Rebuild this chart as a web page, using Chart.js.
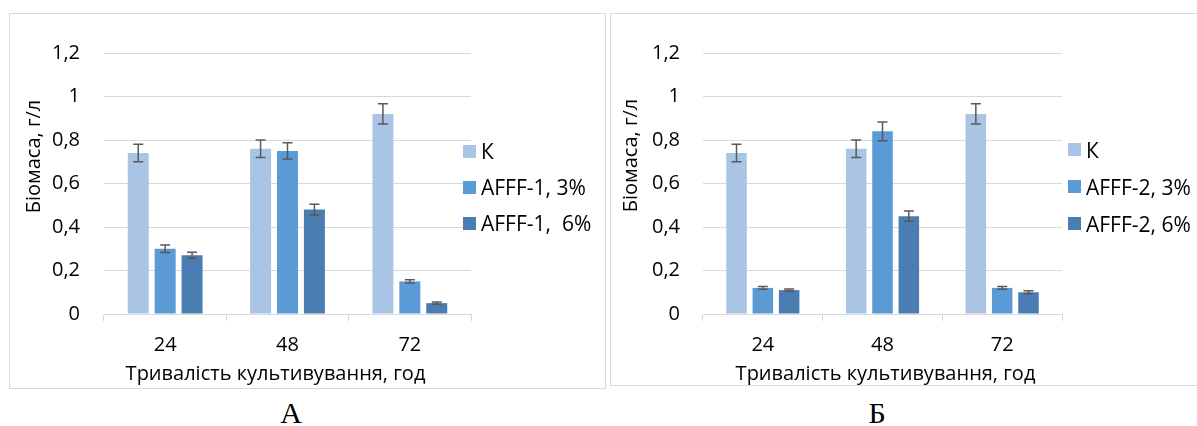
<!DOCTYPE html>
<html>
<head>
<meta charset="utf-8">
<script src="https://cdn.jsdelivr.net/npm/chart.js@4/dist/chart.umd.min.js"></script>
<style>
body{margin:0;width:1197px;height:426px;overflow:hidden;background:#fff;position:relative;font-family:"Open Sans",sans-serif;}
.panel{position:absolute;box-sizing:border-box;border:1px solid #d9d9d9;background:#fff;}
#panelA{left:9px;top:13px;width:597px;height:376px;}
#panelB{left:610px;top:13px;width:600px;height:373px;}
.panel canvas{position:absolute;left:0;top:0;}
.legend{position:absolute;font-size:21px;color:#000;}
.legend .item{display:flex;align-items:center;white-space:pre;}
.legend .box{width:13px;height:13px;margin-right:5px;}
.caption{position:absolute;width:60px;text-align:center;font-family:"Liberation Serif",serif;font-size:30px;line-height:30px;}
</style>
</head>
<body>
<div class="panel" id="panelA"><canvas id="chartA" width="595" height="374"></canvas></div>
<div class="panel" id="panelB"><canvas id="chartB" width="586" height="371"></canvas></div>
<div class="legend" id="legendA" style="left:463px;top:133px;"></div>
<div class="legend" id="legendB" style="left:1068px;top:131px;"></div>
<div class="caption" style="left:261px;top:398px;">А</div>
<div class="caption" style="left:847px;top:398px;">Б</div>
<script>
// data
const categories = ['24', '48', '72'];
const yTickLabels = ['0', '0,2', '0,4', '0,6', '0,8', '1', '1,2'];
const xTitle = 'Тривалість культивування, год';
const yTitle = 'Біомаса, г/л';
const colors = ['#aac4e5', '#5b9bd5', '#4a7eb2'];

const seriesA = ['К', 'AFFF-1, 3%', 'AFFF-1,  6%'];
const controlA = [0.74, 0.76, 0.92];
const controlErrA = [0.04, 0.04, 0.047];
const afff1_3 = [0.30, 0.75, 0.15];
const afff1_3Err = [0.017, 0.037, 0.008];
const afff1_6 = [0.27, 0.48, 0.05];
const afff1_6Err = [0.014, 0.025, 0.005];

const seriesB = ['К', 'AFFF-2, 3%', 'AFFF-2, 6%'];
const controlB = [0.74, 0.76, 0.92];
const controlErrB = [0.04, 0.04, 0.047];
const afff2_3 = [0.12, 0.84, 0.12];
const afff2_3Err = [0.006, 0.043, 0.006];
const afff2_6 = [0.11, 0.45, 0.10];
const afff2_6Err = [0.005, 0.023, 0.007];

Chart.defaults.font.family = '"Open Sans", sans-serif';
Chart.defaults.font.size = 20;
Chart.defaults.color = '#000';

const errorBars = {
    id: 'errorBars',
    afterDatasetsDraw(chart) {
        const ctx = chart.ctx, y = chart.scales.y;
        ctx.save();
        ctx.strokeStyle = '#595959';
        ctx.lineWidth = 1.5;
        chart.data.datasets.forEach((ds, i) => {
            chart.getDatasetMeta(i).data.forEach((bar, j) => {
                const t = y.getPixelForValue(ds.data[j] + ds.errors[j]);
                const b = y.getPixelForValue(ds.data[j] - ds.errors[j]);
                ctx.beginPath();
                ctx.moveTo(bar.x, t); ctx.lineTo(bar.x, b);
                ctx.moveTo(bar.x - 5, t); ctx.lineTo(bar.x + 5, t);
                ctx.moveTo(bar.x - 5, b); ctx.lineTo(bar.x + 5, b);
                ctx.stroke();
            });
        });
        ctx.restore();
    }
};

const axisTitles = {
    id: 'axisTitles',
    afterDraw(chart, args, o) {
        const ctx = chart.ctx, a = chart.chartArea;
        ctx.save();
        ctx.font = '20px "Open Sans", sans-serif';
        ctx.fillStyle = '#000';
        ctx.textAlign = 'center';
        ctx.fillText(xTitle, (a.left + a.right) / 2 + o.xShift, o.xBase);
        ctx.translate(o.yBase, (a.top + a.bottom) / 2 + o.yShift);
        ctx.rotate(-Math.PI / 2);
        ctx.fillText(yTitle, 0, 0);
        ctx.restore();
    }
};

function createChart(id, legendId, labels, values, errors, f) {
    const datasets = labels.map((l, i) => ({
        label: l,
        data: values[i],
        errors: errors[i],
        backgroundColor: colors[i],
        barPercentage: 0.78,
        categoryPercentage: 0.66
    }));

    const legend = document.getElementById(legendId);
    labels.forEach((l, i) => {
        const item = document.createElement('div');
        item.className = 'item';
        item.style.height = f.legendStep + 'px';
        item.innerHTML = '<div class="box" style="background:' + colors[i] + '"></div>';
        item.appendChild(document.createTextNode(l));
        legend.appendChild(item);
    });

    return new Chart(document.getElementById(id), {
        type: 'bar',
        data: {labels: categories, datasets: datasets},
        options: {
            responsive: false,
            animation: false,
            layout: {padding: {left: 0, top: 39, right: f.right, bottom: 0}},
            plugins: {
                legend: {display: false},
                tooltip: {enabled: false},
                axisTitles: f.titles
            },
            scales: {
                x: {
                    grid: {display: true, drawOnChartArea: false, drawTicks: true, tickLength: 7, color: '#d9d9d9'},
                    border: {display: true, color: '#d9d9d9'},
                    ticks: {padding: 12},
                    afterFit: s => { s.height = f.xHeight; }
                },
                y: {
                    min: 0,
                    max: 1.2,
                    ticks: {stepSize: 0.2, padding: f.yPad, callback: (v, i) => yTickLabels[i]},
                    grid: {color: '#d9d9d9', drawTicks: false},
                    border: {display: false},
                    afterFit: s => { s.width = f.yWidth; }
                }
            }
        },
        plugins: [errorBars, axisTitles]
    });
}

createChart('chartA', 'legendA', seriesA,
    [controlA, afff1_3, afff1_6], [controlErrA, afff1_3Err, afff1_6Err],
    {right: 134, xHeight: 74, yWidth: 94, yPad: 24, legendStep: 36,
     titles: {xShift: -12, xBase: 366, yShift: -27, yBase: 30}});

createChart('chartB', 'legendB', seriesB,
    [controlB, afff2_3, afff2_6], [controlErrB, afff2_3Err, afff2_6Err],
    {right: 135, xHeight: 71, yWidth: 92, yPad: 23, legendStep: 37,
     titles: {xShift: 3, xBase: 366, yShift: -28, yBase: 26}});
</script>
</body>
</html>
